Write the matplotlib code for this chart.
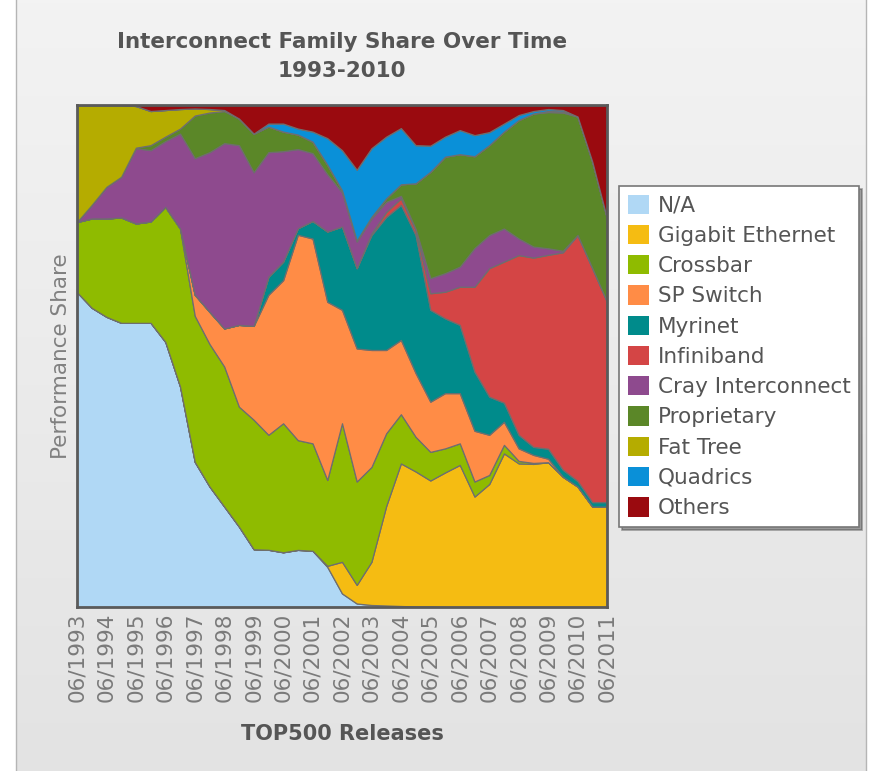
import numpy as np
import matplotlib
matplotlib.use("Agg")
import matplotlib.pyplot as plt
from matplotlib.patches import Patch

# TOP500 releases (June / November)
releases = []
for yr in range(1993, 2012):
    releases.append("06/%d" % yr)
    if yr < 2011:
        releases.append("11/%d" % yr)

# performance share per family, %
na = [62.7, 59.6, 57.8, 56.6, 56.6, 56.6, 52.8, 43.9, 28.9, 24.0, 20.0, 16.0, 11.5,
      11.4, 10.9, 11.4, 11.2, 8.0, 2.7, 0.7, 0.4, 0.3, 0.2, 0.1, 0.1, 0, 0, 0, 0, 0,
      0, 0, 0, 0, 0, 0, 0]
gig_ethernet = [0, 0, 0, 0, 0, 0, 0, 0, 0, 0, 0, 0, 0, 0, 0, 0, 0, 0.2, 6.3, 3.7, 8.6,
                19.8, 28.4, 26.9, 25.1, 26.8, 28.3, 22.0, 24.5, 30.6, 28.6, 28.5, 28.9,
                26.0, 24.0, 20.0, 20.0]
crossbar = [14.0, 17.8, 19.6, 21.0, 19.8, 20.2, 26.9, 31.5, 29.1, 28.4, 27.9, 23.9,
            25.8, 22.9, 25.7, 21.9, 21.4, 17.1, 27.6, 20.6, 18.9, 14.5, 9.8, 6.9, 5.7,
            4.8, 4.3, 3.0, 1.8, 1.7, 0.5, 0.2, 0, 0, 0, 0, 0]
sp_switch = [0, 0, 0, 0, 0, 0, 0, 0, 4.2, 6.4, 7.6, 16.3, 18.7, 27.9, 28.5, 41.0, 40.8,
             35.5, 22.6, 26.5, 23.3, 16.6, 14.8, 12.7, 10.0, 11.0, 10.0, 10.1, 8.0, 4.6,
             2.5, 1.6, 0.7, 0, 0, 0, 0]
myrinet = [0, 0, 0, 0, 0, 0, 0, 0, 0, 0, 0, 0, 0, 3.6, 3.7, 1.3, 3.5, 14.0, 16.6, 16.0,
           22.9, 26.5, 26.9, 27.5, 18.3, 14.9, 13.6, 11.8, 7.6, 3.8, 2.7, 1.6, 2.0, 1.4,
           1.1, 0.9, 0.9]
infiniband = [0, 0, 0, 0, 0, 0, 0, 0, 0, 0, 0, 0, 0, 0, 0, 0, 0, 0, 0, 0, 0.3, 1.0, 1.3,
              1.0, 3.3, 5.3, 7.6, 16.9, 25.6, 28.1, 35.8, 37.7, 38.7, 43.4, 49.0, 46.6, 39.9]
cray = [0, 2.7, 6.3, 8.1, 15.0, 14.2, 13.1, 18.9, 27.2, 31.8, 36.9, 35.8, 30.6, 24.8,
        22.0, 15.8, 13.5, 11.4, 6.8, 5.3, 3.0, 2.0, 0.5, 0.2, 3.0, 3.7, 4.0, 7.7, 6.6,
        6.6, 3.3, 2.2, 1.3, 0.3, 0, 0, 0]
proprietary = [0, 0, 0, 0, 0.1, 1.0, 0.9, 1.0, 8.5, 7.9, 6.4, 5.3, 7.7, 5.1, 3.9, 2.9,
               2.3, 1.9, 0.4, 0.2, 0.3, 0.7, 2.3, 9.1, 21.2, 23.2, 22.4, 18.3, 17.9, 19.3,
               23.6, 26.5, 27.2, 27.6, 23.6, 21.2, 16.6]
fat_tree = [23.3, 19.9, 16.3, 14.3, 8.3, 6.8, 5.3, 3.9, 1.4, 0.7, 0.2, 0, 0, 0, 0, 0, 0,
            0, 0, 0, 0, 0, 0, 0, 0, 0, 0, 0, 0, 0, 0, 0, 0.2, 0.2, 0, 0, 0]
quadrics = [0, 0, 0, 0, 0, 0, 0, 0, 0, 0, 0, 0, 0, 0.6, 1.6, 1.2, 2.0, 5.3, 8.0, 14.1,
            13.7, 12.3, 11.2, 7.6, 5.2, 4.0, 4.8, 4.2, 2.6, 1.6, 1.0, 0.5, 0.4, 0.3, 0, 0, 0]
others = [0, 0, 0, 0, 0.2, 1.2, 1.0, 0.8, 0.7, 0.8, 1.0, 2.7, 5.7, 3.7, 3.7, 4.7, 5.3,
          6.6, 9.0, 12.9, 8.6, 6.3, 4.6, 8.0, 8.1, 6.3, 5.0, 6.0, 5.4, 3.7, 2.0, 1.2, 0.8,
          1.0, 2.3, 11.3, 22.6]

labels = ["N/A", "Gigabit Ethernet", "Crossbar", "SP Switch", "Myrinet", "Infiniband",
          "Cray Interconnect", "Proprietary", "Fat Tree", "Quadrics", "Others"]
colors = ["#b0d8f5", "#f5bc12", "#8fbb00", "#ff8c46", "#008b8b", "#d44545",
          "#8e4a8e", "#5b8728", "#b5ac00", "#0a90d8", "#9a0a0f"]

series = np.array([na, gig_ethernet, crossbar, sp_switch, myrinet, infiniband,
                   cray, proprietary, fat_tree, quadrics, others], dtype=float)
series = series / series.sum(axis=0) * 100  # share of total
x = np.arange(len(releases))

fig = plt.figure(figsize=(8.81, 7.71), dpi=100)
fig.patch.set_facecolor("white")

# grey panel behind the chart
bg = fig.add_axes([0, 0, 1, 1], zorder=-10)
bg.set_xlim(0, 881)
bg.set_ylim(771, 0)
bg.axis("off")
grad = np.linspace(0, 1, 256).reshape(-1, 1)
cmap = matplotlib.colors.LinearSegmentedColormap.from_list("g", ["#f3f3f3", "#e3e3e3"])
bg.imshow(grad, extent=(16, 866, 771, 0), cmap=cmap, aspect="auto")
bg.plot([16, 16], [0, 771], color="#b5b5b5", lw=1)
bg.plot([866, 866], [0, 771], color="#b5b5b5", lw=1)

ax = fig.add_axes([77 / 881, 1 - 607 / 771, 530 / 881, 502 / 771])
ax.stackplot(x, series, colors=colors, edgecolor="#6e6e6e", linewidth=0.9)
ax.set_xlim(0, len(releases) - 1)
ax.set_ylim(0, 100)
ax.set_yticks([])
ax.set_xticks(x[::2])
ax.set_xticklabels(releases[::2], rotation=90, fontsize=15.5, color="#7a7a7a")
ax.tick_params(axis="x", length=0, pad=4)
for sp in ax.spines.values():
    sp.set_color("#5a5a5a")
    sp.set_linewidth(2)

ax.set_ylabel("Performance Share", fontsize=15.5, color="#808080", labelpad=4)
ax.set_xlabel("TOP500 Releases", fontsize=15, fontweight="bold", color="#555555",
              labelpad=16)
ax.set_title("Interconnect Family Share Over Time\n1993-2010", fontsize=15.5,
             fontweight="bold", color="#555555", pad=20, linespacing=1.55)

handles = [Patch(facecolor=c, edgecolor="none") for c in colors]
leg = fig.legend(handles, labels, loc="upper left", bbox_to_anchor=(619 / 881, 1 - 186 / 771),
                 fontsize=15.5, frameon=True, fancybox=False, shadow=True,
                 handlelength=1.0, handleheight=1.0, labelspacing=0.43,
                 handletextpad=0.4, borderpad=0.4, borderaxespad=0)
leg.get_frame().set_edgecolor("#777777")
leg.get_frame().set_linewidth(1.2)
for t in leg.get_texts():
    t.set_color("#555555")

fig.savefig("out.png", dpi=100)
